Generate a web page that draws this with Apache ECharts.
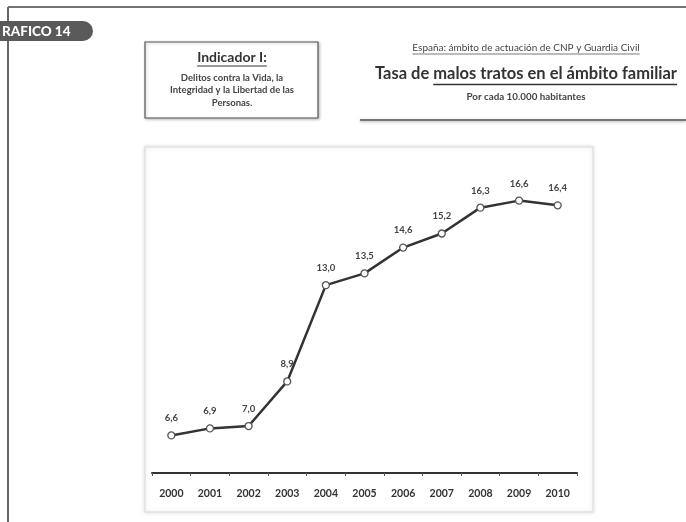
<!DOCTYPE html>
<html><head><meta charset="utf-8">
<script src="https://cdn.jsdelivr.net/npm/echarts@6/dist/echarts.min.js"></script>
<style>html,body{margin:0;padding:0;background:#fff;}#c{width:686px;height:522px;}</style>
</head><body><div id="c"></div>
<script>
const years = ['2000','2001','2002','2003','2004','2005','2006','2007','2008','2009','2010'];
const tasa = [6.6, 6.9, 7.0, 8.9, 13.0, 13.5, 14.6, 15.2, 16.3, 16.6, 16.4];
const badgeText = 'RAFICO 14';
const indicadorTitle = 'Indicador I:';
const indicadorLines = ['Delitos contra la Vida, la', 'Integridad y la Libertad de las', 'Personas.'];
const superTitle = 'España: ámbito de actuación de CNP y Guardia Civil';
const titleA = 'Tasa de ';
const titleB = 'malos tratos en el ámbito familiar';
const subTitle = 'Por cada 10.000 habitantes';

const FF = 'Lato, "Open Sans", sans-serif';
const cv = document.createElement('canvas').getContext('2d');
function tw(t, size, weight){ cv.font = (weight||'bold')+' '+size+'px '+FF; return cv.measureText(t).width; }

const chart = echarts.init(document.getElementById('c'), null, {renderer:'canvas'});

const g = [];
// page frame
g.push({type:'line', shape:{x1:8,y1:7,x2:686,y2:7}, style:{stroke:'#444', lineWidth:1.5}, z:1});
g.push({type:'line', shape:{x1:8,y1:7,x2:8,y2:522}, style:{stroke:'#666', lineWidth:2}, z:1});
// badge
g.push({type:'rect', shape:{x:-12,y:21,width:105,height:20,r:10}, style:{fill:'#5a5a5a'}, z:5});
g.push({type:'text', x:2, y:31.5, style:{text:badgeText, fill:'#fff', font:'900 13.5px '+FF, textVerticalAlign:'middle'}, z:6});
// indicador box
g.push({type:'rect', shape:{x:145,y:42,width:173,height:76}, style:{fill:'#fff', stroke:'#555', lineWidth:1.2, shadowBlur:3, shadowColor:'rgba(0,0,0,0.25)', shadowOffsetX:1, shadowOffsetY:1}, z:2});
const cxBox = 232;
const itS = 14;
const itW = tw(indicadorTitle, itS);
g.push({type:'text', x:cxBox, y:57, style:{text:indicadorTitle, fill:'#333', font:'bold '+itS+'px '+FF, textAlign:'center', textVerticalAlign:'middle'}, z:3});
g.push({type:'line', shape:{x1:cxBox-itW/2,y1:66,x2:cxBox+itW/2,y2:66}, style:{stroke:'#333', lineWidth:1}, z:3});
indicadorLines.forEach((t,i)=>{
  g.push({type:'text', x:cxBox, y:77.5+i*12.5, style:{text:t, fill:'#444', font:'bold 9.5px '+FF, textAlign:'center', textVerticalAlign:'middle'}, z:3});
});
// title block
const cxT = 526;
const stS = 10;
const stW = tw(superTitle, stS, 'normal');
g.push({type:'text', x:cxT, y:48, style:{text:superTitle, fill:'#444', font:stS+'px '+FF, textAlign:'center', textVerticalAlign:'middle'}, z:3});
g.push({type:'line', shape:{x1:cxT-stW/2,y1:54,x2:cxT+stW/2,y2:54}, style:{stroke:'#555', lineWidth:0.8}, z:3});
const tSize = 16.5;
const wA = tw(titleA, tSize), wB = tw(titleB, tSize);
const tx0 = cxT - (wA+wB)/2;
g.push({type:'text', x:tx0, y:74, style:{text:titleA+titleB, fill:'#333', font:'bold '+tSize+'px '+FF, textVerticalAlign:'middle'}, z:3});
g.push({type:'line', shape:{x1:tx0+wA,y1:84.5,x2:tx0+wA+wB,y2:84.5}, style:{stroke:'#333', lineWidth:1.4}, z:3});
g.push({type:'text', x:cxT, y:97, style:{text:subTitle, fill:'#444', font:'bold 9.8px '+FF, textAlign:'center', textVerticalAlign:'middle'}, z:3});
g.push({type:'line', shape:{x1:360,y1:120,x2:686,y2:120}, style:{stroke:'#777', lineWidth:2, shadowBlur:3, shadowColor:'rgba(0,0,0,0.3)', shadowOffsetY:1}, z:3});
// chart panel
g.push({type:'rect', shape:{x:145,y:147,width:448,height:365}, style:{fill:'#fff', stroke:'#e2e2e2', lineWidth:1.5, shadowBlur:4, shadowColor:'rgba(0,0,0,0.12)'}, z:0});

chart.setOption({
  animation:false,
  backgroundColor:'#fff',
  graphic:g,
  grid:{left:152, width:425, top:156, height:317, containLabel:false},
  xAxis:{type:'category', data:years, boundaryGap:true,
    axisLine:{lineStyle:{color:'#333', width:2}},
    axisTick:{show:true, length:3, lineStyle:{color:'#555'}},
    axisLabel:{color:'#333', fontFamily:FF, fontWeight:'bold', fontSize:10.5, margin:15}},
  yAxis:{type:'value', min:5, max:18.5, show:false, splitLine:{show:false}},
  series:[{type:'line', data:tasa, z:5,
    lineStyle:{color:'#333', width:2.5},
    symbol:'circle', symbolSize:7,
    itemStyle:{color:'#fff', borderColor:'#555', borderWidth:1.3},
    label:{show:true, position:'top', distance:8, color:'#444', fontFamily:FF, fontWeight:'bold', fontSize:9.5,
      formatter:p=>p.value.toFixed(1).replace('.',',')}
  }]
});
</script></body></html>
